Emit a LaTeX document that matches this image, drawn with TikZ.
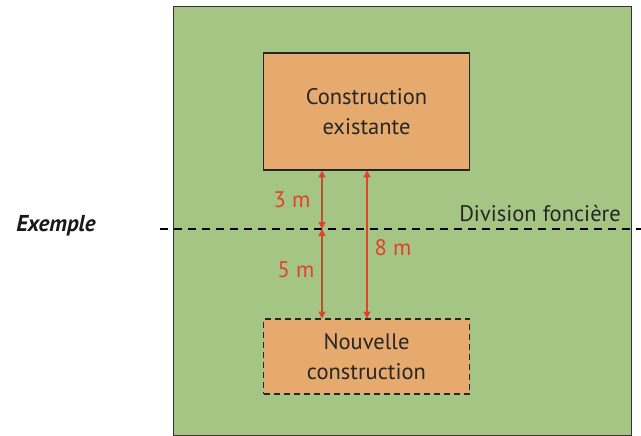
\documentclass[tikz,border=0pt]{standalone}
\usepackage{fontspec}
\setmainfont{PT Sans}
\usetikzlibrary{arrows.meta}
\definecolor{lot}{HTML}{A4C584}
\definecolor{bati}{HTML}{E6AA6E}
\definecolor{cote}{HTML}{E5412A}
\definecolor{cotedark}{HTML}{B5552F}
\tikzset{
  tip/.tip={Triangle[width=7pt,length=7pt,fill=cote,color=cote]},
  bigfont/.style={font=\fontsize{22.5}{30}\selectfont}}
\begin{document}
\begin{tikzpicture}[x=1pt,y=-1pt,
  box/.style={draw=black!85,line width=1.6pt,fill=bati,minimum width=206pt,align=center,bigfont,text=black!85},
  dim/.style={draw=cote,line width=1.5pt,tip-tip},
  lbl/.style={text=cote,bigfont}]
\useasboundingbox (0,0) rectangle (641,436);
\fill[white] (0,0) rectangle (641,436);
\draw[fill=lot,draw=black!80,line width=1pt] (173,6.5) rectangle (631.5,435);
\node[box,minimum height=117pt] (exist) at (366.5,111.5) {Construction\\existante};
\node[box,dash pattern=on 6pt off 4pt,minimum height=75pt] (nouv) at (366.5,356.5) {Nouvelle\\construction};
\coordinate (dL) at (160,229);
\coordinate (dR) at (641,229);
\draw[line width=2.2pt,dash pattern=on 8pt off 6pt] (dL) -- (dR);
\coordinate (a1t) at (322,170.5);
\coordinate (a1m) at (322,229);
\coordinate (a1b) at (322,318.5);
\coordinate (a2t) at (367,170.5);
\coordinate (a2b) at (367,318.5);
\draw[dim,draw=cotedark] (a1t) -- (a1m);
\draw[dim,draw=cotedark] (a1m) -- (a1b);
\draw[dim] (a2t) -- (a2b);
\node[lbl] (l3) at (292,200) {3 m};
\node[lbl] (l5) at (296,270) {5 m};
\node[lbl] (l8) at (393,248) {8 m};
\node[bigfont,text=black!85] (div) at (540,214) {Division foncière};
\node[font=\fontsize{23}{28}\selectfont\bfseries\itshape,text=black!90] (ex) at (56,226) {Exemple};
\end{tikzpicture}
\end{document}
